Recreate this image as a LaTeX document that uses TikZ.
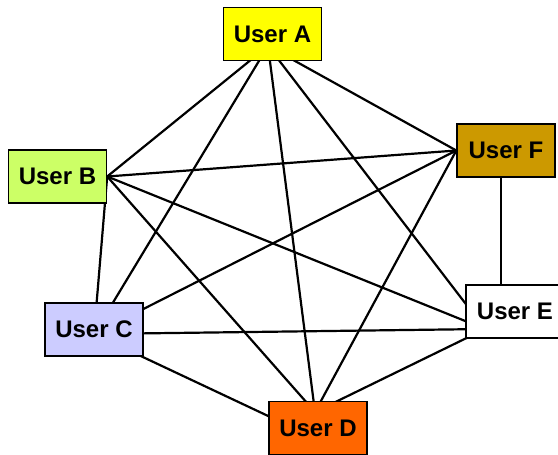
\documentclass[tikz,border=0pt]{standalone}
\usepackage{fontspec}
\setmainfont{Liberation Sans}
\usetikzlibrary{backgrounds}

\definecolor{colA}{HTML}{FFFF00}
\definecolor{colB}{HTML}{CCFF66}
\definecolor{colC}{HTML}{CCCCFF}
\definecolor{colD}{HTML}{FF6600}
\definecolor{colF}{HTML}{CC9900}

\begin{document}
\begin{tikzpicture}[x=0.5pt, y=-0.5pt, style = {minimum width = 49pt, minimum height = 26.5pt}]
\tikzstyle{every node}=[font=\fontsize{12}{14}\selectfont\bfseries, draw, line width=0.7pt, inner sep=0pt]
\tikzstyle{link}=[line width=1.1pt]
\useasboundingbox (0,0) rectangle (558,455);
\node[fill=colA](nA) at (272.5,34) {User A};
\node[fill=colB](nB) at (57.5,176.5) {User B};
\node[fill=colC](nC) at (94,329.5) {User C};
\node[fill=colD](nD) at (318,428) {User D};
\node[fill=white](nE) at (515,311.5) {User E};
\node[fill=colF](nF) at (506,150.5) {User F};
% points behind the boxes where the lines meet
\coordinate (hA) at (268,46);
\coordinate (hC) at (94,334);
\coordinate (hD) at (315,412);
\coordinate (hDC) at (300,431);
\coordinate (hE) at (485,329);
\begin{pgfonlayer}{background}
\draw[link] (hA) -- (nB.east);
\draw[link] (hA) -- (hC);
\draw[link] (hA) -- (hD);
\draw[link] (hA) -- (hE);
\draw[link] (hA) -- (nF.west);
\draw[link] (nB.east) -- (hC);
\draw[link] (nB.east) -- (hD);
\draw[link] (nB.east) -- (hE);
\draw[link] (nB.east) -- (nF.west);
\draw[link] (hC) -- (hDC);
\draw[link] (hC) -- (hE);
\draw[link] (hC) -- (nF.west);
\draw[link] (hD) -- (hE);
\draw[link] (hD) -- (nF.west);
\draw[link] ([xshift=-2.5pt]nF.south) -- ([xshift=-2.5pt]nF.south |- nE.north);
\end{pgfonlayer}
\end{tikzpicture}
\end{document}
